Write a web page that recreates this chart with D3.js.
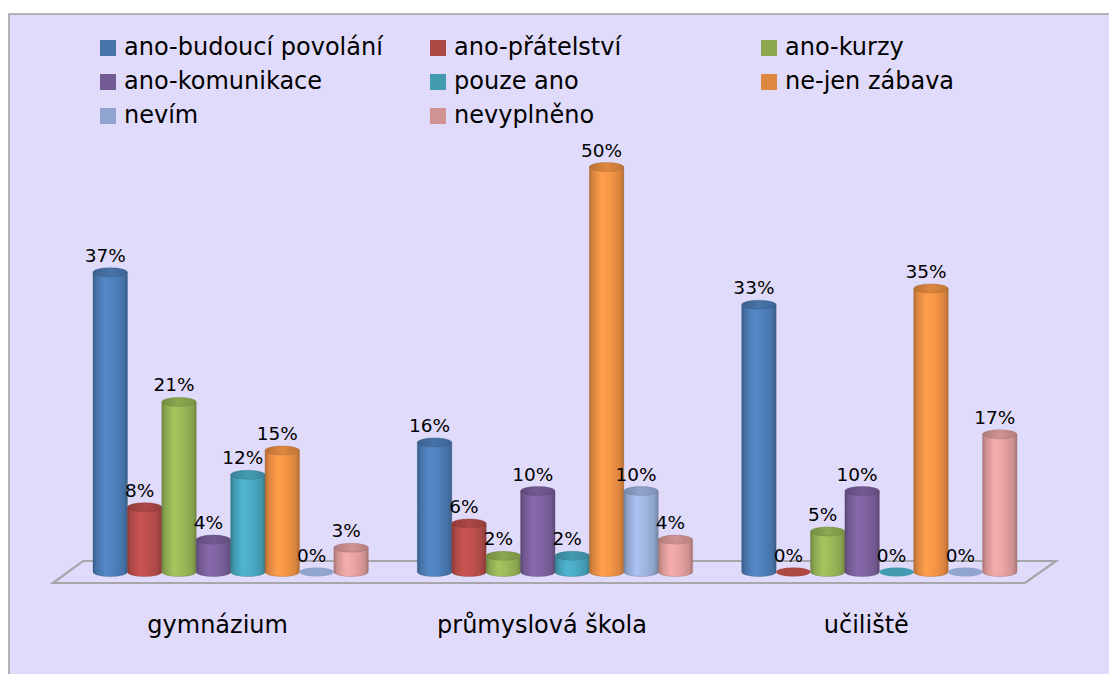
<!DOCTYPE html>
<html><head><meta charset="utf-8">
<script src="https://cdn.jsdelivr.net/npm/d3@7"></script>
<style>body{margin:0;background:#fff;}svg{display:block;}text{font-family:"DejaVu Sans",sans-serif;fill:#000;}</style>
</head><body>
<svg id="c" width="1109" height="674"></svg>
<script>
const categories = ["gymnázium", "průmyslová škola", "učiliště"];
const seriesNames = ["ano-budoucí povolání", "ano-přátelství", "ano-kurzy", "ano-komunikace", "pouze ano", "ne-jen zábava", "nevím", "nevyplněno"];
const seriesColors = ["#4F81BD", "#C0504D", "#9BBB59", "#8064A2", "#4BACC6", "#F79646", "#A0B8E4", "#E9A4A3"];
const valuesGymnazium = [37, 8, 21, 4, 12, 15, 0, 3];
const valuesPrumyslova = [16, 6, 2, 10, 2, 50, 10, 4];
const valuesUciliste = [33, 0, 5, 10, 0, 35, 0, 17];
const values = [valuesGymnazium, valuesPrumyslova, valuesUciliste];

const svg = d3.select("#c");
svg.append("rect").attr("x", 9).attr("y", 14).attr("width", 1120).attr("height", 680)
  .attr("fill", "#E0DBFA").attr("stroke", "#A0A0A0").attr("stroke-width", 1.5);

const x0 = d3.scaleBand().domain(categories).range([93, 1017]).paddingInner(49 / 324).paddingOuter(0);
const x1 = d3.scaleBand().domain(seriesNames).range([0, x0.bandwidth()]).padding(0);
const y = d3.scaleLinear().domain([0, 50]).range([572, 167]);
const ry = 4.5;

// gradients
const defs = svg.append("defs");
seriesColors.forEach((c, i) => {
  const base = d3.color(c);
  const g = defs.append("linearGradient").attr("id", "g" + i).attr("x1", 0).attr("x2", 1).attr("y1", 0).attr("y2", 0);
  [[0, base.darker(0.9)], [0.1, base.darker(0.35)], [0.35, base.brighter(0.15)], [0.6, base], [0.88, base.darker(0.35)], [1, base.darker(0.9)]]
    .forEach(([o, col]) => g.append("stop").attr("offset", o).attr("stop-color", col));
  const t = defs.append("linearGradient").attr("id", "t" + i).attr("x1", 0).attr("x2", 1).attr("y1", 0).attr("y2", 0);
  [[0, base.darker(0.8)], [0.5, base.darker(0.3)], [1, base.darker(0.7)]]
    .forEach(([o, col]) => t.append("stop").attr("offset", o).attr("stop-color", col));
});

// floor
const fx0 = x0.range()[0], fx1 = x0.range()[1], fy = y(0);
svg.append("polygon")
  .attr("points", [[fx0 - 40, fy + 11], [fx0 - 10, fy - 11], [fx1 + 39, fy - 11], [fx1 + 8, fy + 11]].map(p => p.join(",")).join(" "))
  .attr("fill", "none").attr("stroke", "#9C9C9C").attr("stroke-width", 2.2).attr("stroke-opacity", 0.85);

// bars
categories.forEach((cat, ci) => {
  const g = svg.append("g").attr("transform", `translate(${x0(cat)},0)`);
  seriesNames.forEach((s, si) => {
    const v = values[ci][si];
    const bx = x1(s), w = x1.bandwidth(), cx = bx + w / 2;
    const yt = y(v), yb = y(0);
    const base = d3.color(seriesColors[si]);
    if (v > 0) {
      g.append("path")
        .attr("d", `M${bx},${yt} L${bx},${yb} A${w / 2},${ry} 0 0 0 ${bx + w},${yb} L${bx + w},${yt} Z`)
        .attr("fill", `url(#g${si})`).attr("stroke", base.darker(1.2)).attr("stroke-width", 0.6).attr("stroke-opacity", 0.6);
      g.append("ellipse").attr("cx", cx).attr("cy", yt).attr("rx", w / 2).attr("ry", ry)
        .attr("fill", `url(#t${si})`).attr("stroke", base.darker(1.2)).attr("stroke-width", 0.6).attr("stroke-opacity", 0.6);
    } else {
      g.append("ellipse").attr("cx", cx).attr("cy", yb).attr("rx", w / 2).attr("ry", ry)
        .attr("fill", base.darker(0.3));
    }
    g.append("text").attr("x", cx - 5).attr("y", yt - ry - 6)
      .attr("text-anchor", "middle").attr("font-size", 18.5).text(v + "%");
  });
});

// category labels
svg.append("g").selectAll("text").data(categories).join("text")
  .attr("x", d => x0(d) + x0.bandwidth() / 2 - 13).attr("y", 633)
  .attr("text-anchor", "middle").attr("font-size", 24).text(d => d);

// legend
const legX = [100, 430, 761], legY = [40, 74, 108];
const leg = svg.append("g");
seriesNames.forEach((s, i) => {
  const lx = legX[i % 3], ly = legY[Math.floor(i / 3)];
  leg.append("rect").attr("x", lx).attr("y", ly).attr("width", 16).attr("height", 16)
    .attr("fill", d3.color(seriesColors[i]).darker(0.3));
  leg.append("text").attr("x", lx + 24).attr("y", ly + 15).attr("font-size", 24).text(s);
});
</script>
</body></html>
